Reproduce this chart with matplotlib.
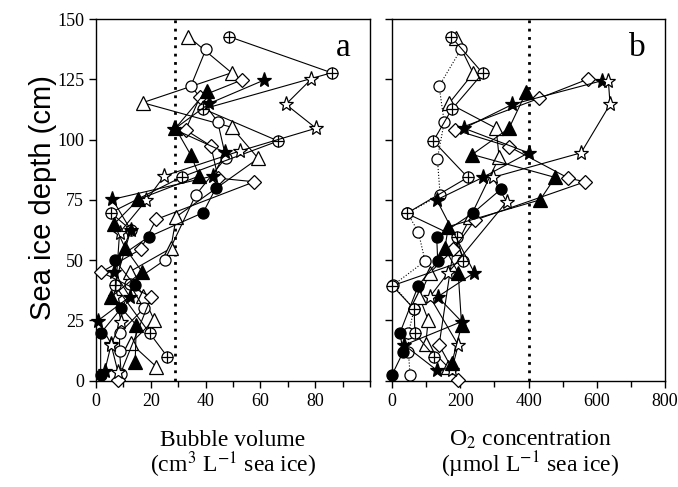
import numpy as np
import matplotlib
matplotlib.use("Agg")
import matplotlib.pyplot as plt
from matplotlib.ticker import MultipleLocator

plt.rcParams['font.family'] = ['Liberation Serif', 'DejaVu Serif']
plt.rcParams['mathtext.fontset'] = 'stix'

# ---- panel a: bubble volume (cm3 L-1) vs depth (cm) ----
otri_depth_a = [142.7, 127.7, 115.3, 105.1, 92.2, 68.0, 54.9, 45.2, 35.1, 25.2, 15.5, 5.8]
otri_vol = [33.7, 49.5, 17.0, 49.5, 59.2, 29.3, 27.3, 12.3, 17.2, 21.2, 12.7, 22.0]
ocirc_depth_a = [137.4, 122.4, 107.4, 92.5, 77.0, 50.0, 40.0, 30.0, 19.7, 12.4, 2.7]
ocirc_vol = [40.1, 34.7, 44.4, 47.4, 36.4, 25.1, 12.3, 17.5, 8.6, 8.6, 9.2]
oplus_depth_a = [142.7, 127.7, 112.7, 99.4, 84.6, 69.7, 62.5, 39.7, 19.7, 10.0]
oplus_vol = [48.5, 86.0, 39.2, 66.5, 31.5, 5.4, 12.7, 6.8, 19.6, 26.0]
odia_depth_a = [124.7, 117.8, 104.0, 97.4, 84.0, 82.5, 66.9, 54.5, 45.0, 34.8, 0.3]
odia_vol = [53.2, 38.0, 32.7, 41.9, 44.6, 57.8, 22.0, 16.3, 1.9, 20.2, 8.0]
fstar_depth_a = [124.7, 115.0, 104.3, 94.7, 84.9, 75.2, 62.5, 45.2, 34.8, 24.9, 15.2, 4.1]
fstar_vol = [61.4, 41.4, 28.5, 47.1, 42.8, 6.0, 12.7, 6.6, 12.3, 0.7, 5.6, 3.2]
ostar_depth_a = [125.0, 114.6, 104.7, 95.3, 84.9, 74.9, 61.4, 34.8, 24.5, 15.0, 3.7]
ostar_vol = [78.5, 69.3, 80.3, 52.6, 24.9, 18.4, 8.6, 7.0, 9.2, 5.5, 8.0]
fcirc_depth_a = [79.8, 69.7, 59.7, 50.0, 39.7, 30.0, 19.7, 2.4]
fcirc_vol = [43.7, 39.1, 19.3, 6.8, 14.1, 9.2, 1.7, 1.7]
ftri_depth_a = [120.2, 104.7, 93.6, 84.9, 75.2, 65.0, 54.9, 45.2, 34.8, 23.1, 7.9]
ftri_vol = [40.4, 29.0, 34.6, 37.7, 15.5, 6.6, 10.7, 16.8, 5.6, 14.7, 14.3]

# ---- panel b: O2 concentration (umol L-1) vs depth (cm) ----
otri_depth_b = [142.3, 127.5, 115.0, 104.7, 92.6, 68.0, 55.0, 44.8, 34.8, 25.2, 15.2, 5.5]
otri_o2 = [187, 238, 167, 305, 314, 230, 185, 111, 80, 106, 99, 165]
ocirc_depth_b = [137.4, 122.2, 107.2, 92.1, 77.0, 69.5, 61.8, 49.6, 39.6, 29.7, 19.7, 12.0, 2.5]
ocirc_o2 = [202, 138, 153, 133, 141, 45, 77, 97, 3, 65, 48, 48, 53]
oplus_depth_b = [142.7, 127.5, 112.5, 99.4, 84.3, 69.4, 59.5, 49.6, 39.4, 29.7, 19.7, 10.0]
oplus_o2 = [173, 266, 175, 121, 222, 43, 190, 209, 1, 65, 67, 124]
odia_depth_b = [125.0, 117.1, 104.0, 97.0, 84.0, 82.5, 66.6, 54.5, 14.8, 0.3]
odia_o2 = [573, 431, 185, 344, 517, 566, 243, 180, 138, 194]
fstar_depth_b = [124.4, 114.6, 104.7, 94.5, 84.3, 75.0, 44.8, 34.8, 24.5, 14.8, 4.4]
fstar_o2 = [615, 353, 211, 400, 266, 131, 241, 134, 204, 36, 131]
ostar_depth_b = [124.4, 114.6, 94.5, 84.3, 74.2, 44.5, 34.8, 14.8, 4.4]
ostar_o2 = [634, 639, 554, 295, 336, 163, 111, 194, 175]
fcirc_depth_b = [79.5, 69.6, 59.5, 49.6, 39.4, 19.7, 12.0, 2.4]
fcirc_o2 = [320, 238, 131, 134, 77, 23, 33, 0]
ftri_depth_b = [119.6, 104.7, 93.8, 84.3, 75.0, 63.9, 54.9, 44.8, 23.0, 7.2]
ftri_o2 = [393, 343, 235, 478, 434, 165, 155, 194, 204, 175]

vol_threshold = 29
o2_threshold = 400

styles = {
    'otri':  dict(marker='^', ms=10, mfc='white'),
    'ocirc': dict(marker='o', ms=8, mfc='white'),
    'oplus': dict(marker='o', ms=8, mfc='white'),
    'odia':  dict(marker='D', ms=7, mfc='white'),
    'fstar': dict(marker='*', ms=11, mfc='black'),
    'ostar': dict(marker='*', ms=11, mfc='white'),
    'fcirc': dict(marker='o', ms=8, mfc='black'),
    'ftri':  dict(marker='^', ms=10, mfc='black'),
}


def profile(ax, x, depth, kind, ls='-'):
    st = styles[kind]
    ax.plot(x, depth, color='black', lw=0.8, ls=ls, mec='black', mew=0.9,
            clip_on=False, zorder=3, **st)
    if kind == 'oplus':
        ax.plot(x, depth, ls='none', marker='+', ms=st['ms'], mew=0.9,
                color='black', clip_on=False, zorder=4)


fig = plt.figure(figsize=(6.78, 4.87), dpi=100)
W, H = 678, 487
ax_a = fig.add_axes([96 / W, 1 - 380.7 / H, 274 / W, 361.7 / H])
ax_b = fig.add_axes([392 / W, 1 - 380.7 / H, 273 / W, 361.7 / H])

profile(ax_a, otri_vol, otri_depth_a, 'otri')
profile(ax_a, ocirc_vol, ocirc_depth_a, 'ocirc')
profile(ax_a, oplus_vol, oplus_depth_a, 'oplus')
profile(ax_a, odia_vol, odia_depth_a, 'odia')
profile(ax_a, fstar_vol, fstar_depth_a, 'fstar')
profile(ax_a, ostar_vol, ostar_depth_a, 'ostar')
profile(ax_a, fcirc_vol, fcirc_depth_a, 'fcirc')
profile(ax_a, ftri_vol, ftri_depth_a, 'ftri')

profile(ax_b, otri_o2, otri_depth_b, 'otri')
profile(ax_b, ocirc_o2, ocirc_depth_b, 'ocirc', ls=':')
profile(ax_b, oplus_o2, oplus_depth_b, 'oplus')
profile(ax_b, odia_o2, odia_depth_b, 'odia')
profile(ax_b, fstar_o2, fstar_depth_b, 'fstar')
profile(ax_b, ostar_o2, ostar_depth_b, 'ostar')
profile(ax_b, fcirc_o2, fcirc_depth_b, 'fcirc')
profile(ax_b, ftri_o2, ftri_depth_b, 'ftri')

ax_a.axvline(vol_threshold, color='black', lw=2, ls=(0, (1, 2)), zorder=2)
ax_b.axvline(o2_threshold, color='black', lw=2, ls=(0, (1, 2)), zorder=2)

ax_a.set_xlim(0, 100)
ax_b.set_xlim(0, 800)
for ax in (ax_a, ax_b):
    ax.set_ylim(0, 150)
    ax.yaxis.set_major_locator(MultipleLocator(25))
    ax.tick_params(direction='out', length=5, width=1, labelsize=13)
    ax.tick_params(which='minor', direction='out', length=4, width=1)
    for s in ax.spines.values():
        s.set_linewidth(1)

ax_a.set_xticks([0, 20, 40, 60, 80])
ax_a.xaxis.set_minor_locator(MultipleLocator(10))
ax_b.xaxis.set_major_locator(MultipleLocator(200))
ax_b.xaxis.set_minor_locator(MultipleLocator(100))
ax_b.set_yticklabels([])

ax_a.text(0.93, 0.92, 'a', transform=ax_a.transAxes, fontsize=24,
          ha='right', va='center')
ax_b.text(0.93, 0.92, 'b', transform=ax_b.transAxes, fontsize=24,
          ha='right', va='center')

fig.text(233 / W, 1 - 440 / H, 'Bubble volume', ha='center', va='center', fontsize=17)
fig.text(233 / W, 1 - 465 / H, '(cm$^3$ L$^{-1}$ sea ice)', ha='center', va='center', fontsize=17)
fig.text(530 / W, 1 - 440 / H, 'O$_2$ concentration', ha='center', va='center', fontsize=17)
fig.text(530 / W, 1 - 465 / H, '(\u00b5mol L$^{-1}$ sea ice)', ha='center', va='center', fontsize=17)
fig.text(43 / W, 1 - 198 / H, 'Sea ice depth (cm)', rotation=90, ha='center', va='center',
         fontsize=21, family=['Liberation Sans', 'DejaVu Sans'])

fig.savefig('out.png', dpi=100)
